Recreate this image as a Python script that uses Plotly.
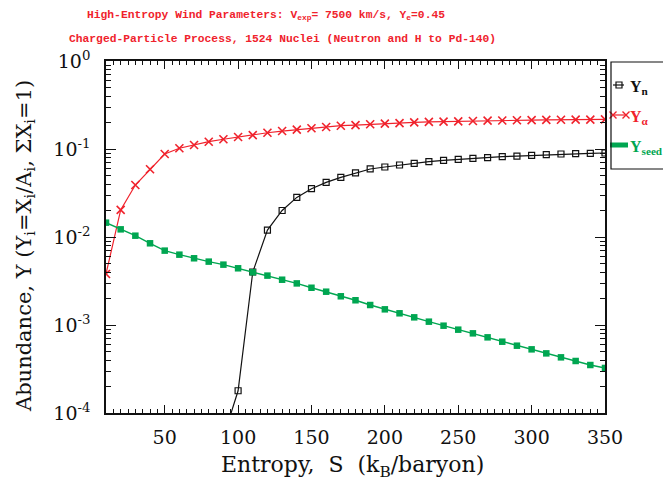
import plotly.graph_objects as go

# Entropy grid (k_B/baryon)
entropy = list(range(10, 351, 10))
entropy_n = list(range(90, 351, 10))

# Abundances Y_i = X_i / A_i
y_alpha = [0.0038, 0.0203, 0.039, 0.0588, 0.0877, 0.102, 0.111, 0.121, 0.129, 0.137,
           0.144, 0.153, 0.160, 0.166, 0.172, 0.178, 0.184, 0.187, 0.191, 0.194,
           0.197, 0.201, 0.203, 0.205, 0.206, 0.208, 0.210, 0.211, 0.212, 0.213,
           0.214, 0.215, 0.216, 0.216, 0.217]
y_seed = [0.01455, 0.01222, 0.01035, 0.00848, 0.0070, 0.0063, 0.00573, 0.00525, 0.00485,
          0.00441, 0.00397, 0.00364, 0.00327, 0.00297, 0.00265, 0.00239, 0.00212, 0.00191,
          0.001687, 0.001507, 0.001358, 0.001222, 0.001091, 0.000982, 0.000885, 0.000804,
          0.000724, 0.000646, 0.000582, 0.000529, 0.000476, 0.000429, 0.000390, 0.000351,
          0.000325]
y_n = [5.3e-5, 1.79e-4, 0.0040, 0.0120, 0.0200, 0.0282, 0.0354, 0.0418, 0.0476, 0.0535,
       0.0593, 0.0624, 0.0658, 0.0687, 0.0718, 0.0743, 0.0764, 0.0783, 0.0798, 0.0818,
       0.0832, 0.0847, 0.0862, 0.0877, 0.0885, 0.0893, 0.0901]

x_ticks = [50, 100, 150, 200, 250, 300, 350]
y_ticks = [1e-4, 1e-3, 1e-2, 1e-1, 1]
y_ticktext = ["10<sup>-4</sup>", "10<sup>-3</sup>", "10<sup>-2</sup>", "10<sup>-1</sup>", "10<sup>0</sup>"]
y_minor = [k * 10.0 ** e for e in range(-4, 0) for k in range(2, 10)]

RED = "#f0222c"
GREEN = "#00a651"
BLACK = "#111111"
SERIF = "DejaVu Serif"

W, H = 663, 485
L, R, T, B = 106, 605, 61, 413   # plot-area pixel box


def px(x):
    return (x - L) / (W - L)


def py(y):
    return (B - y) / (B - T)


fig = go.Figure()

fig.add_trace(go.Scatter(
    x=entropy_n, y=y_n, mode="lines+markers",
    line=dict(color=BLACK, width=1.2),
    marker=dict(symbol="square-open", size=6, color=BLACK, line=dict(width=1.2)),
))
fig.add_trace(go.Scatter(
    x=entropy, y=y_alpha, mode="lines+markers",
    line=dict(color=RED, width=1.2),
    marker=dict(symbol="x-thin-open", size=8, color=RED, line=dict(width=1.6, color=RED)),
))
fig.add_trace(go.Scatter(
    x=entropy, y=y_seed, mode="lines+markers",
    line=dict(color=GREEN, width=1.4),
    marker=dict(symbol="square", size=6.5, color=GREEN),
))

# Key drawn in its own small panel right of the plot
fig.add_trace(go.Scatter(x=[613, 624], y=[85, 85], mode="lines", xaxis="x2", yaxis="y2",
                         line=dict(color=BLACK, width=1.2)))
fig.add_trace(go.Scatter(x=[619], y=[85], mode="markers", xaxis="x2", yaxis="y2",
                         marker=dict(symbol="square-open", size=6, color=BLACK, line=dict(width=1.2))))
fig.add_trace(go.Scatter(x=[613, 626], y=[115, 115], mode="lines+markers", xaxis="x2", yaxis="y2",
                         line=dict(color=RED, width=1.2),
                         marker=dict(symbol="x-thin-open", size=7, color=RED, line=dict(width=1.4, color=RED))))
fig.add_trace(go.Scatter(x=[610, 628], y=[145, 145], mode="lines", xaxis="x2", yaxis="y2",
                         line=dict(color=GREEN, width=5)))

axis_common = dict(
    showline=True, linecolor=BLACK, linewidth=1.5, mirror="ticks",
    ticks="inside", tickcolor=BLACK, showgrid=False, zeroline=False, automargin=False,
    tickfont=dict(family=SERIF, size=19, color=BLACK),
)

fig.update_layout(
    template="none",
    width=W, height=H,
    margin=dict(l=L, r=0, t=T, b=H - B, pad=0),
    paper_bgcolor="white", plot_bgcolor="white",
    showlegend=False,
    xaxis=dict(
        **axis_common,
        domain=[0, px(R)], range=[10, 350],
        tickmode="array", tickvals=x_ticks, ticklen=8, tickwidth=1.2,
        minor=dict(dtick=5, tick0=0, ticks="inside", ticklen=4, tickcolor=BLACK, tickwidth=1),
        ticklabelstandoff=6,
    ),
    yaxis=dict(
        **axis_common,
        type="log", range=[-4, 0],
        tickmode="array", tickvals=y_ticks, ticktext=y_ticktext, ticklen=10, tickwidth=1.2,
        minor=dict(tickmode="array", tickvals=y_minor, ticks="inside", ticklen=5,
                   tickcolor=BLACK, tickwidth=1),
        ticklabelstandoff=10,
    ),
    xaxis2=dict(domain=[px(606), 1], range=[606, 663], visible=False, fixedrange=True,
                automargin=False),
    yaxis2=dict(anchor="x2", domain=[0, 1], range=[B, T], visible=False, fixedrange=True,
                automargin=False),
)

fig.add_shape(type="rect", xref="x2", yref="y2", x0=611, x1=690, y0=62, y1=169,
              line=dict(color=BLACK, width=1.2), fillcolor="rgba(0,0,0,0)")

legend_font = dict(family="Liberation Serif", size=16)
for text, yy, col in [("<b>Y<sub>n</sub></b>", 87, BLACK),
                      ("<b>Y<sub>α</sub></b>", 117, RED),
                      ("<b>Y<sub>seed</sub></b>", 147, GREEN)]:
    fig.add_annotation(x=628, y=yy, xref="x2", yref="y2", text=text, showarrow=False,
                       xanchor="left", yanchor="middle", font=dict(color=col, **legend_font))

title_font = dict(family="Liberation Mono", size=11.3, color=RED)
fig.add_annotation(x=px(85), y=py(16), xref="paper", yref="paper", xanchor="left", yanchor="middle",
                   showarrow=False, font=title_font,
                   text="<b>High-Entropy Wind Parameters: V<sub>exp</sub>= 7500 km/s, Y<sub>e</sub>=0.45</b>")
fig.add_annotation(x=px(67), y=py(39), xref="paper", yref="paper", xanchor="left", yanchor="middle",
                   showarrow=False, font=title_font,
                   text="<b>Charged-Particle Process, 1524 Nuclei (Neutron and H to Pd-140)</b>")

fig.add_annotation(x=px(352), y=py(466), xref="paper", yref="paper", xanchor="center", yanchor="middle",
                   showarrow=False, font=dict(family=SERIF, size=22, color=BLACK),
                   text="Entropy,  S  (k<sub>B</sub>/baryon)")
fig.add_annotation(x=px(25), y=py(246), xref="paper", yref="paper", xanchor="center", yanchor="middle",
                   showarrow=False, textangle=-90, font=dict(family=SERIF, size=21, color=BLACK),
                   text="Abundance, Y (Y<sub>i</sub>=X<sub>i</sub>/A<sub>i</sub>, ΣX<sub>i</sub>=1)")

fig.write_html("out.html")
